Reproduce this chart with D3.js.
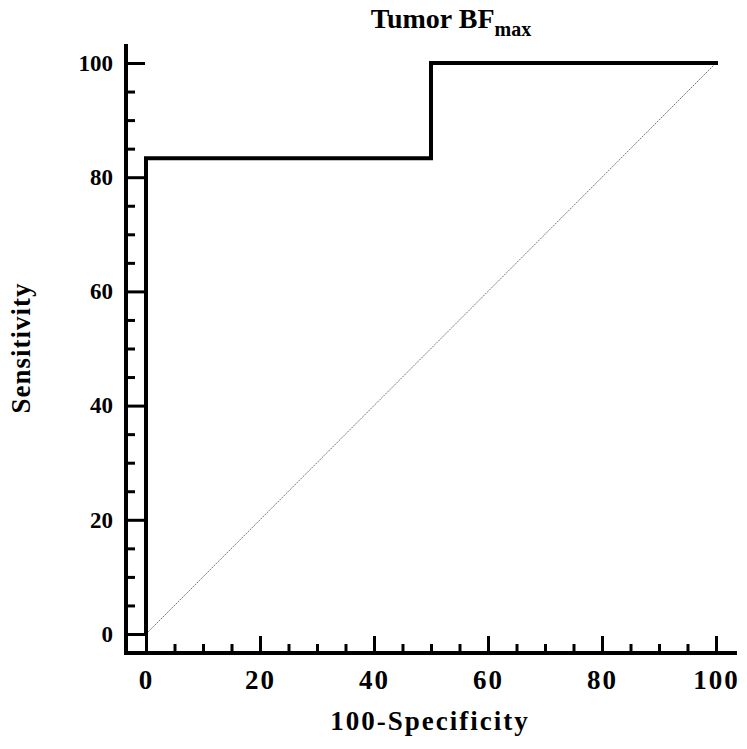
<!DOCTYPE html>
<html>
<head>
<meta charset="utf-8">
<script src="https://cdn.jsdelivr.net/npm/d3@7"></script>
<style>
  body { margin: 0; background: #fff; }
  svg, svg text { font-family: "Liberation Serif", "Times New Roman", serif; }
  svg { display: block; }
</style>
</head>
<body>
<div id="chart"></div>
<script>
// ROC curve data (100-Specificity, Sensitivity)
const fpr = [0, 0, 50, 50, 100];
const tpr = [0, 83.33, 83.33, 100, 100];
const diagX = [0, 100];
const diagY = [0, 100];
const majorTicks = [0, 20, 40, 60, 80, 100];
const minorTicks = d3.range(5, 100, 5).filter(v => v % 20 !== 0);

const W = 747, H = 749;

const svg = d3.select("#chart").append("svg")
  .attr("width", W)
  .attr("height", H);

// Scales
const x = d3.scaleLinear().domain([0, 100]).range([146, 716]);
const y = d3.scaleLinear().domain([0, 100]).range([634, 63]);

// axis extents (slightly beyond the data range)
const xAxisY = 653, yAxisX = 126;
const xLeft = 124, xRight = 737;
const yTop = 44, yBottom = 655;

// diagonal reference line
svg.append("path")
  .attr("d", d3.line().x(d => x(d[0])).y(d => y(d[1]))(d3.zip(diagX, diagY)))
  .attr("fill", "none")
  .attr("stroke", "#777")
  .attr("stroke-width", 1)
  .attr("stroke-dasharray", "2,1");

// ROC step curve
svg.append("path")
  .attr("d", d3.line().x(d => x(d[0])).y(d => y(d[1]))(d3.zip(fpr, tpr)))
  .attr("fill", "none")
  .attr("stroke", "#000")
  .attr("stroke-width", 4)
  .attr("stroke-linejoin", "miter")
  .attr("stroke-linecap", "square");

// X axis
const gx = svg.append("g").attr("transform", `translate(0,${xAxisY})`);
gx.call(d3.axisBottom(x).tickValues(majorTicks).tickSize(-17).tickPadding(17).tickFormat(d3.format("d")));
gx.append("g").call(d3.axisBottom(x).tickValues(minorTicks).tickSize(-9).tickFormat(""));
gx.selectAll(".domain").remove();
gx.attr("font-family", null);
gx.selectAll("line").attr("stroke", "#000").attr("stroke-width", 3);
gx.selectAll("text")
  .attr("fill", "#000")
  .style("font-size", "27px")
  .style("font-weight", "bold")
  .style("letter-spacing", "2px");
gx.append("line")
  .attr("x1", xLeft).attr("x2", xRight)
  .attr("stroke", "#000").attr("stroke-width", 4);

// Y axis
const gy = svg.append("g").attr("transform", `translate(${yAxisX},0)`);
gy.call(d3.axisLeft(y).tickValues(majorTicks).tickSize(-19).tickPadding(13).tickFormat(d3.format("d")));
gy.append("g").call(d3.axisLeft(y).tickValues(minorTicks).tickSize(-9).tickFormat(""));
gy.selectAll(".domain").remove();
gy.attr("font-family", null);
gy.selectAll("line").attr("stroke", "#000").attr("stroke-width", 3);
gy.selectAll("text")
  .attr("fill", "#000")
  .style("font-size", "23px")
  .style("font-weight", "bold");
gy.append("line")
  .attr("y1", yTop).attr("y2", yBottom)
  .attr("stroke", "#000").attr("stroke-width", 4);

// Title with subscript
const title = svg.append("text")
  .attr("x", 451)
  .attr("y", 28)
  .attr("text-anchor", "middle")
  .style("font-size", "28px")
  .style("font-weight", "bold");
title.append("tspan").text("Tumor BF");
title.append("tspan").text("max").attr("dy", 8).style("font-size", "20px");

// Axis titles
svg.append("text")
  .attr("x", 430)
  .attr("y", 730)
  .attr("text-anchor", "middle")
  .style("font-size", "27px")
  .style("font-weight", "bold")
  .style("letter-spacing", "2px")
  .text("100-Specificity");

svg.append("text")
  .attr("transform", "translate(30,348) rotate(-90)")
  .attr("text-anchor", "middle")
  .style("font-size", "27px")
  .style("font-weight", "bold")
  .style("letter-spacing", "1px")
  .text("Sensitivity");
</script>
</body>
</html>
